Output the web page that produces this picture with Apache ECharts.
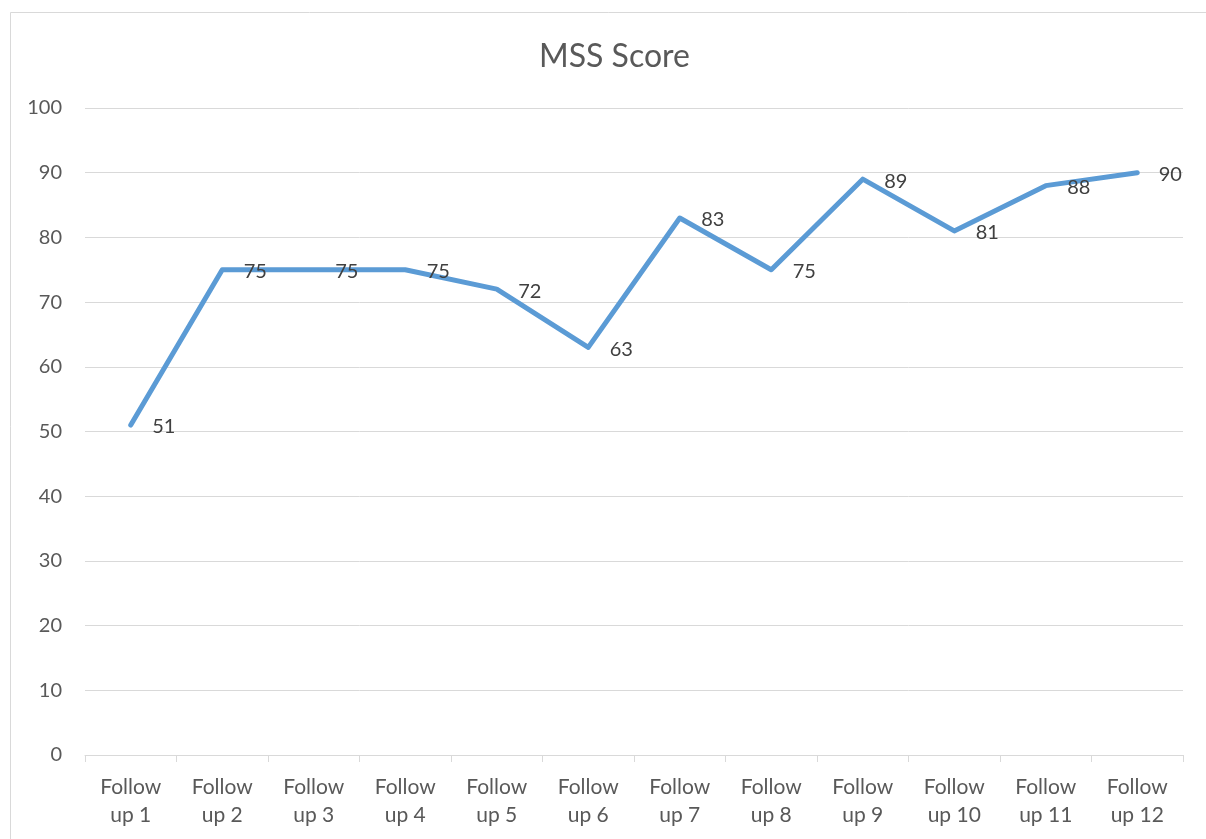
<!DOCTYPE html>
<html>
<head>
<meta charset="utf-8">
<script src="https://cdn.jsdelivr.net/npm/echarts@6/dist/echarts.min.js"></script>
<style>
html,body{margin:0;padding:0;background:#fff;}
#c{width:1206px;height:839px;}
</style>
</head>
<body>
<div id="c"></div>
<script>
const categories = ["Follow\nup 1","Follow\nup 2","Follow\nup 3","Follow\nup 4","Follow\nup 5","Follow\nup 6","Follow\nup 7","Follow\nup 8","Follow\nup 9","Follow\nup 10","Follow\nup 11","Follow\nup 12"];
const mssScore = [51,75,75,75,72,63,83,75,89,81,88,90];
const titleText = "MSS Score";

const chart = echarts.init(document.getElementById('c'), null, {renderer:'canvas'});
const FONT = 'Lato, "Liberation Sans", sans-serif';
chart.setOption({
  backgroundColor: '#fff',
  animation: false,
  graphic: [{
    type: 'rect', left: 8, top: 10,
    shape: {width: 1220, height: 860},
    style: {fill: 'none', stroke: '#d9d9d9', lineWidth: 1}, silent: true, z: -1
  }],
  title: {
    text: titleText, left: 534, top: 36,
    textStyle: {fontFamily: FONT, fontSize: 32, fontWeight: 'normal', color: '#595959'}
  },
  grid: {left: 85, right: 23, top: 108, bottom: 84, containLabel: false},
  xAxis: {
    type: 'category', data: categories, boundaryGap: true,
    axisLine: {lineStyle: {color: '#d9d9d9', width: 1}},
    axisTick: {show: true, length: 7, lineStyle: {color: '#d9d9d9'}},
    axisLabel: {fontFamily: FONT, fontSize: 21, color: '#595959', lineHeight: 28, margin: 18, interval: 0}
  },
  yAxis: {
    type: 'value', min: 0, max: 100, interval: 10,
    axisLine: {show: false}, axisTick: {show: false},
    splitLine: {lineStyle: {color: '#d9d9d9', width: 1}},
    axisLabel: {fontFamily: FONT, fontSize: 20, color: '#595959', margin: 23}
  },
  series: [{
    type: 'line', data: mssScore, showSymbol: true, symbol: 'circle', symbolSize: 1,
    itemStyle: {color: '#5b9bd5'},
    lineStyle: {color: '#5b9bd5', width: 5, cap: 'round', join: 'round'},
    label: {show: true, position: 'right', distance: 21, offset: [0, 2],
      fontFamily: FONT, fontSize: 20, color: '#404040'}
  }]
});
</script>
</body>
</html>
